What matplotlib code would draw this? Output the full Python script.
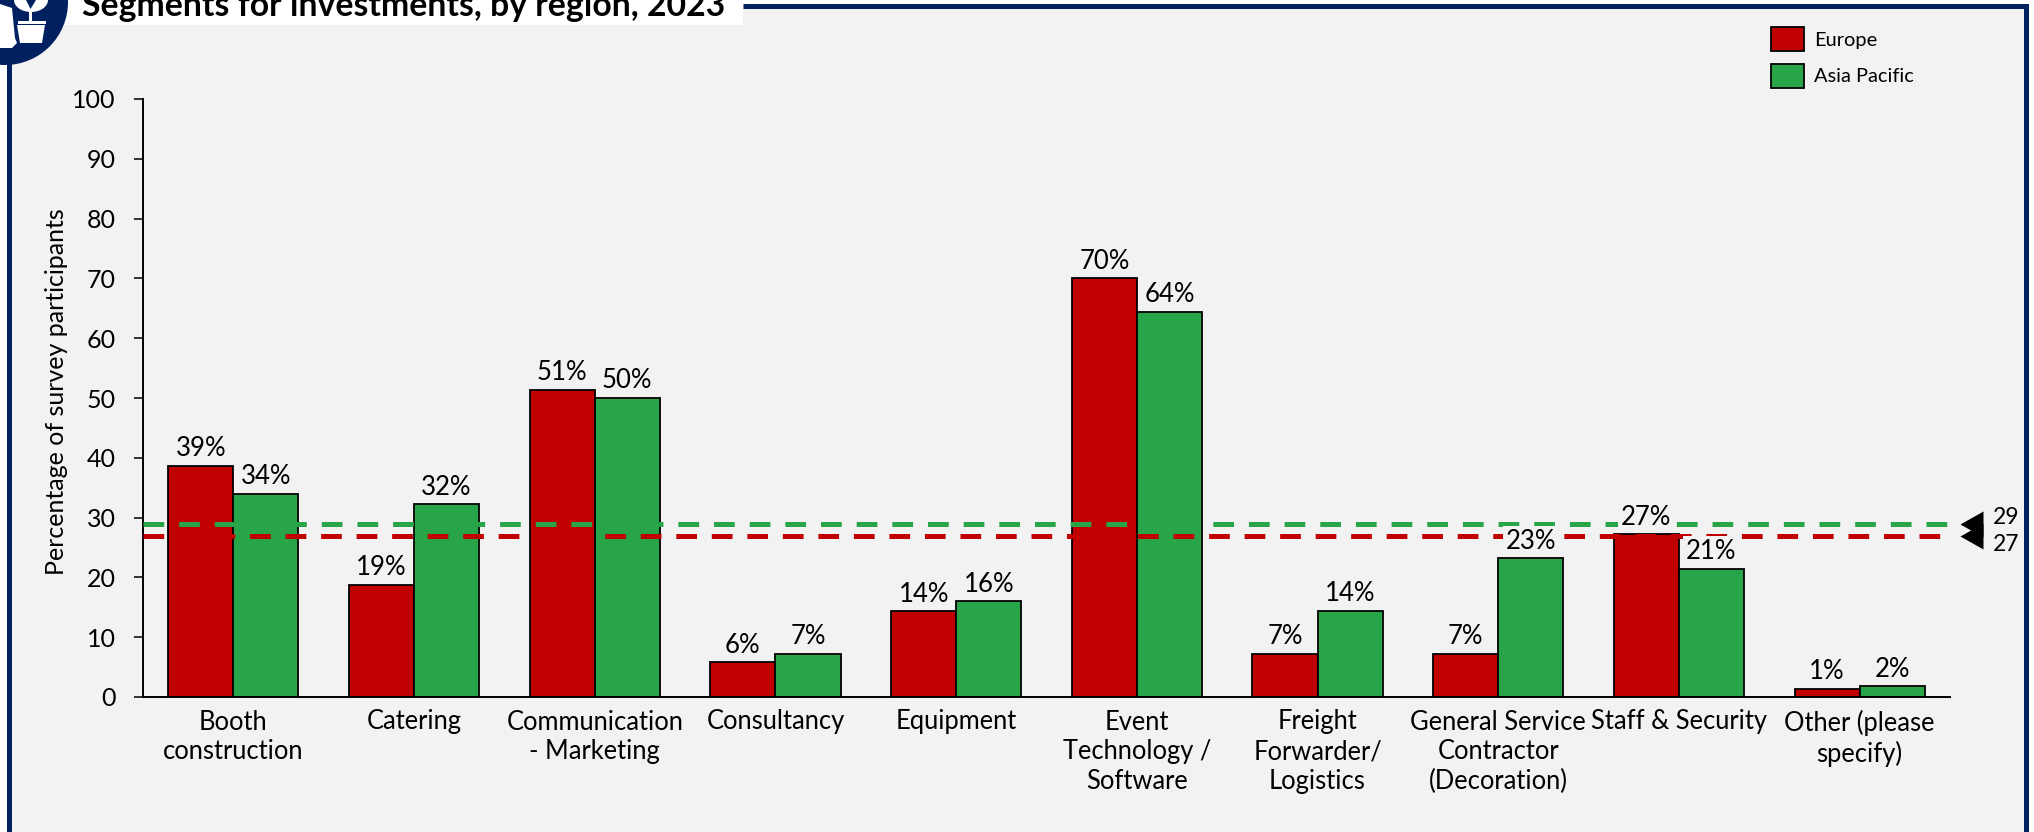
import matplotlib
matplotlib.use("Agg")
import matplotlib.pyplot as plt
from matplotlib.patches import Rectangle, Circle, Polygon, Ellipse
import numpy as np

plt.rcParams['font.family'] = ['Lato', 'DejaVu Sans']
plt.rcParams['lines.scale_dashes'] = False

# donnees
categories = ["Booth\nconstruction", "Catering", "Communication\n- Marketing", "Consultancy",
              "Equipment", "Event\nTechnology /\nSoftware", "Freight\nForwarder/\nLogistics",
              "General Service\nContractor\n(Decoration)", "Staff & Security", "Other (please\nspecify)"]
europe = [38.6, 18.7, 51.4, 5.8, 14.3, 70.0, 7.2, 7.2, 27.2, 1.4]
asia_pacific = [34.0, 32.2, 50.0, 7.2, 16.0, 64.4, 14.4, 23.2, 21.4, 1.8]
europe_labels = ["39%", "19%", "51%", "6%", "14%", "70%", "7%", "7%", "27%", "1%"]
asia_labels = ["34%", "32%", "50%", "7%", "16%", "64%", "14%", "23%", "21%", "2%"]
europe_avg = 27
asia_avg = 29

RED = "#C00000"
GREEN = "#28A548"
NAVY = "#002060"
BG = "#F2F2F2"
W, H = 2034, 832
PX = 0.72  # 1 px en points a dpi 100

fig = plt.figure(figsize=(W / 100, H / 100), dpi=100, facecolor="white")

# decor : fond, cadre, titre, icone, en coordonnees pixels
deco = fig.add_axes([0, 0, 1, 1], zorder=0)
deco.set_xlim(0, W)
deco.set_ylim(H, 0)
deco.axis("off")
deco.add_patch(Rectangle((8, 6), 2017, 830, fc=BG, ec="none"))
deco.plot([8.5, 8.5], [30, H], color=NAVY, lw=5 * PX, solid_capstyle="butt")
deco.plot([743, 2025.5, 2025.5], [6, 6, H], color=NAVY, lw=5 * PX, solid_joinstyle="miter", solid_capstyle="butt")

top = fig.add_axes([0, 0, 1, 1], zorder=5)
top.set_xlim(0, W)
top.set_ylim(H, 0)
top.axis("off")
top.patch.set_alpha(0)
top.add_patch(Rectangle((40, 0), 703, 24.5, fc="white", ec="none"))
top.add_patch(Circle((5, 2), 63, fc=NAVY, ec="none"))
top.add_patch(Polygon([(17, 25), (45, 25), (42, 43), (20, 43)], fc="white", ec="none"))
top.add_patch(Rectangle((18, 20.5), 28, 3, fc="white", ec="none"))
top.add_patch(Rectangle((29, 6), 2.5, 15, fc="white", ec="none"))
top.add_patch(Ellipse((31, 0), 34, 24, fc="white", ec="none"))
top.add_patch(Polygon([(26, 0), (36, 0), (30.5, 9)], fc=NAVY, ec="none"))
top.add_patch(Polygon([(0, 4), (12, 8), (15, 38), (17, 43), (12, 48), (0, 48)], fc="white", ec="none"))
top.text(82, 16, "Segments for investments, by region, 2023", fontsize=24.3, fontweight="bold",
         color="black", ha="left", va="baseline")

ax = fig.add_axes([143 / W, 1 - 697 / H, (1950 - 143) / W, 598 / H], zorder=2)
ax.patch.set_alpha(0)

x = np.arange(len(categories))
bar_w = 0.36
bars_eu = ax.bar(x - bar_w / 2, europe, bar_w, color=RED, edgecolor="black", linewidth=1.3, label="Europe", zorder=2)
bars_ap = ax.bar(x + bar_w / 2, asia_pacific, bar_w, color=GREEN, edgecolor="black", linewidth=1.3, label="Asia Pacific", zorder=2)

ax.plot([-0.5, 9.5], [asia_avg, asia_avg], color=GREEN, lw=5 * PX,
        linestyle=(0, (20.7 * PX, 14.96 * PX)), zorder=3)
ax.plot([-0.5, 9.5], [europe_avg, europe_avg], color=RED, lw=5 * PX,
        linestyle=(0, (20.7 * PX, 14.82 * PX)), zorder=3)

for xi, v, lab in zip(x - bar_w / 2, europe, europe_labels):
    ax.annotate(lab, (xi, v), xytext=(0, 7), textcoords="offset points", ha="center", va="baseline",
                fontsize=18.5, zorder=4, bbox=dict(fc=BG, ec="none", pad=2))
for xi, v, lab in zip(x + bar_w / 2, asia_pacific, asia_labels):
    ax.annotate(lab, (xi, v), xytext=(0, 7), textcoords="offset points", ha="center", va="baseline",
                fontsize=18.5, zorder=4, bbox=dict(fc=BG, ec="none", pad=2))

ax.set_xlim(-0.5, 9.5)
ax.set_ylim(0, 100)
ax.set_yticks(range(0, 101, 10))
ax.set_xticks(x)
ax.set_xticklabels(categories, fontsize=18.4, linespacing=1.23)
ax.tick_params(axis="x", length=0, pad=9)
ax.tick_params(axis="y", length=6.5, width=1.1, pad=13, labelsize=18)
ax.spines["top"].set_visible(False)
ax.spines["right"].set_visible(False)
ax.spines["left"].set_linewidth(1.4)
ax.spines["bottom"].set_linewidth(1.4)
ax.set_ylabel("Percentage of survey participants", fontsize=18)
ax.yaxis.set_label_coords(-0.0415, 0.51)

# reperes des moyennes a droite
tri = [(-23, 0), (0, 13), (0, -13)]
tr = ax.get_yaxis_transform()
for avg in [asia_avg, europe_avg]:
    ax.plot([1.018], [avg], marker=tri, ms=33.1, color="black", mec="none", transform=tr, clip_on=False, zorder=4)
ax.annotate(str(asia_avg), (1, asia_avg), xycoords=tr, xytext=(43 * PX, 6 * PX), textcoords="offset points",
            ha="left", va="center", fontsize=16.5)
ax.annotate(str(europe_avg), (1, europe_avg), xycoords=tr, xytext=(43 * PX, -9 * PX), textcoords="offset points",
            ha="left", va="center", fontsize=16.5)

leg = fig.legend(handles=[bars_eu, bars_ap], labels=["Europe", "Asia Pacific"], loc="upper left",
                 bbox_to_anchor=(1771 / W, 1 - 27 / H), borderaxespad=0, borderpad=0, frameon=False,
                 fontsize=14.4, handlelength=1.65, handleheight=1.47, handletextpad=0.5, labelspacing=0.63)

plt.savefig("out.png", dpi=100)
plt.close()
